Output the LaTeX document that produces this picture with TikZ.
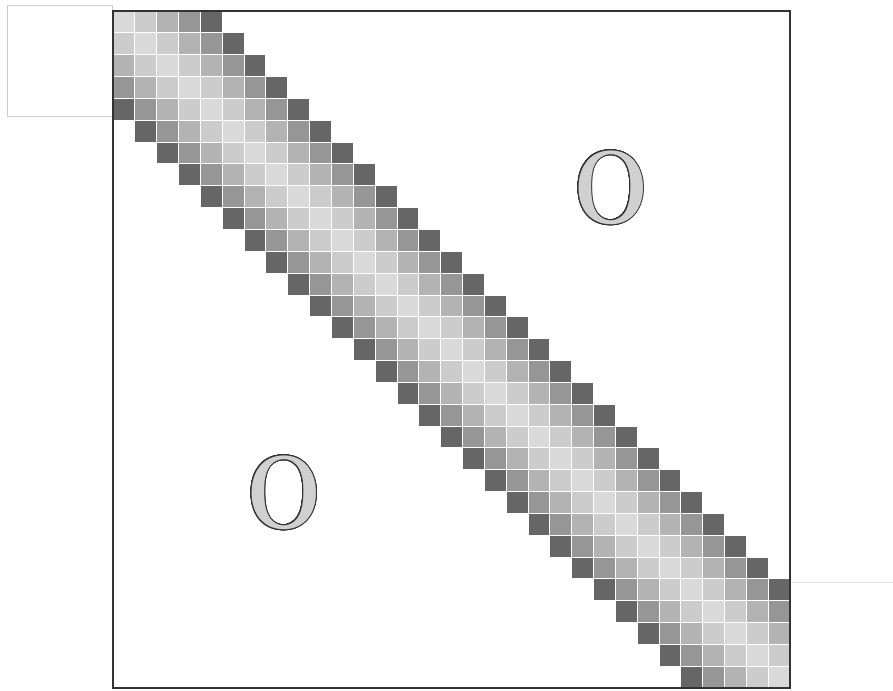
\documentclass[tikz,border=0pt]{standalone}
\usepackage{graphicx}
\usepackage{contour}
\contourlength{0.7pt}
\contournumber{32}

\definecolor{band0}{HTML}{D9D9D9}
\definecolor{band1}{HTML}{CCCCCC}
\definecolor{band2}{HTML}{B3B3B3}
\definecolor{band3}{HTML}{969696}
\definecolor{band4}{HTML}{666666}
\definecolor{zerofill}{HTML}{D0D0D0}
\definecolor{zeroline}{HTML}{333333}

\newcommand{\zeroglyph}{\scalebox{0.86}[1]{\contour{zeroline}{\textcolor{zerofill}{O}}}}

\begin{document}
\begin{tikzpicture}[
  x=0.546cm, y=-0.546cm,
  cell/.style={draw=white, line width=0.6pt},
  zero/.style={font=\fontsize{74}{74}\selectfont\bfseries, inner sep=0pt}
]
\useasboundingbox (-5.174,-0.504) rectangle (35.714,31.09);

% faint stray marks
\draw[black!20, line width=0.5pt] (-4.853,-0.275) rectangle (-0.046,4.808);
\draw[black!10, line width=0.5pt] (31.09,26.14) -- (35.714,26.14);

% band of width 9 around the diagonal
\foreach \i in {0,...,30}{
  \foreach \d in {-4,...,4}{
    \pgfmathtruncatemacro{\j}{\i+\d}
    \pgfmathtruncatemacro{\a}{abs(\d)}
    \ifnum\j>-1 \ifnum\j<31
      \fill[cell, fill=band\a] (\j,\i) rectangle ++(1,1);
    \fi\fi
  }
}

% matrix frame
\draw[zeroline, line width=1.1pt] (0,0) rectangle (31,31);

% zero blocks
\node[zero] (upperZero) at (22.80,8.10) {\zeroglyph};
\node[zero] (lowerZero) at (7.83,22.07) {\zeroglyph};

\end{tikzpicture}
\end{document}
